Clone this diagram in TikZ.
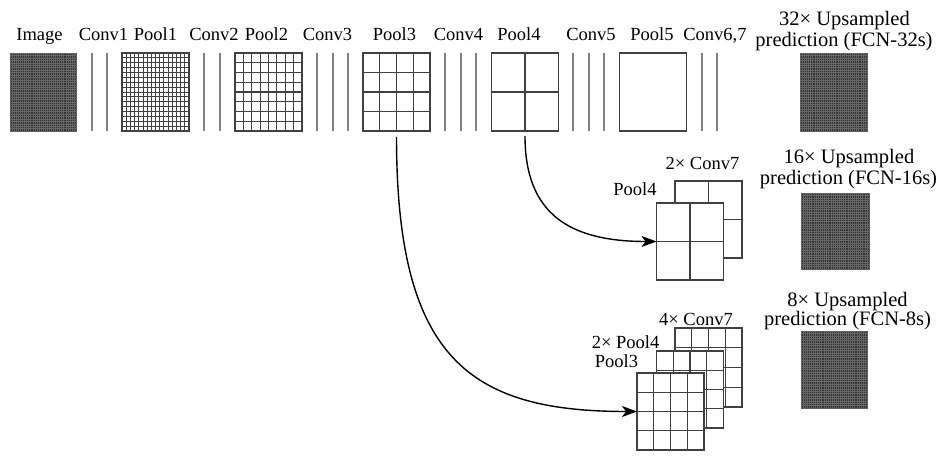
\documentclass[tikz,border=0pt]{standalone}
\usepackage{fontspec}
\setmainfont{Liberation Serif}
\usetikzlibrary{calc,arrows.meta}
\newcommand{\drawgrid}[4]{%
  \pgfmathtruncatemacro{\gcols}{#2-1}%
  \pgfmathtruncatemacro{\grows}{#3-1}%
  \foreach \k in {1,...,\gcols} \draw[#4] ($(#1.south west)!\k/#2!(#1.south east)$) -- ($(#1.north west)!\k/#2!(#1.north east)$);%
  \foreach \k in {1,...,\grows} \draw[#4] ($(#1.south west)!\k/#3!(#1.north west)$) -- ($(#1.south east)!\k/#3!(#1.north east)$);%
}
\begin{document}
\begin{tikzpicture}[x=1pt,y=-1pt,
  layer/.style={rectangle,draw=black!75,line width=1.1pt,fill=white,minimum width=67pt,minimum height=78pt,inner sep=0pt,outer sep=0pt},
  darkbox/.style={layer,fill=black!80,draw=black!62,line width=0.8pt},
  gline/.style={draw=black!75,line width=1.1pt},
  fline/.style={draw=black!75,line width=0.8pt},
  tline/.style={draw=black!60,line width=0.3pt},
  convline/.style={draw=black!50,line width=1.3pt},
  lbl/.style={font=\fontsize{18.5}{21}\selectfont,inner sep=0pt,anchor=base},
  plbl/.style={font=\fontsize{20.5}{21}\selectfont,inner sep=0pt,anchor=base},
  skip/.style={-{Stealth[length=15pt,width=11pt,inset=4pt]},line width=1.4pt,black}]
\useasboundingbox (0,0) rectangle (944,457);

% ---- top row ----
\node[darkbox,minimum width=66pt] (img) at (43,92) {};
\drawgrid{img}{32}{32}{tline}
\foreach \x in {92,107,204,220,317,333,348,445,461,476,573,589,604,702,717}
  \draw[convline] (\x,53) -- (\x,131);
\node[layer] (pool1) at (155.5,92) {};
\drawgrid{pool1}{16}{16}{fline}
\node[layer] (pool2) at (268.5,92) {};
\drawgrid{pool2}{8}{8}{gline}
\node[layer] (pool3) at (396.5,92) {};
\drawgrid{pool3}{4}{4}{gline}
\node[layer] (pool4) at (525,92) {};
\drawgrid{pool4}{2}{2}{gline}
\node[layer] (pool5) at (653,92) {};
\node[darkbox] (out32) at (833.5,92) {};
\drawgrid{out32}{32}{32}{tline}

\node[lbl] (tImage) at (39.5,41) {Image};
\node[lbl] (tConv1) at (103.5,41) {Conv1};
\node[lbl] (tPool1) at (155.5,41) {Pool1};
\node[lbl] (tConv2) at (214,41) {Conv2};
\node[lbl] (tPool2) at (266.5,41) {Pool2};
\node[lbl] (tConv3) at (327.5,41) {Conv3};
\node[lbl] (tPool3) at (394.5,41) {Pool3};
\node[lbl] (tConv4) at (458.5,41) {Conv4};
\node[lbl] (tPool4) at (519,41) {Pool4};
\node[lbl] (tConv5) at (591,41) {Conv5};
\node[lbl] (tPool5) at (652,41) {Pool5};
\node[lbl] (tConv67) at (715,41) {Conv6,7};
\node[plbl] (p32a) at (844.5,26) {32× Upsampled};
\node[plbl] (p32b) at (844,47) {prediction (FCN-32s)};

% ---- middle (FCN-16s) ----
\node[layer,minimum height=77pt] (c7b) at (708.5,219.5) {};
\drawgrid{c7b}{2}{2}{gline}
\node[layer,minimum height=77pt] (p4f) at (690,241.5) {};
\drawgrid{p4f}{2}{2}{gline}
\node[darkbox,minimum width=68pt,minimum height=76pt] (out16) at (835,231) {};
\drawgrid{out16}{32}{32}{tline}
\node[lbl] (t2c7) at (702.5,170) {2× Conv7};
\node[lbl] (tp4) at (635,195) {Pool4};
\node[plbl] (p16a) at (849,164) {16× Upsampled};
\node[plbl] (p16b) at (848.5,184) {prediction (FCN-16s)};

% ---- bottom (FCN-8s) ----
\node[layer,minimum height=79pt] (c7c) at (708.5,367.5) {};
\drawgrid{c7c}{4}{4}{gline}
\node[layer,minimum height=77pt] (p4m) at (690,389.5) {};
\drawgrid{p4m}{4}{4}{gline}
\node[layer,minimum height=77pt] (p3f) at (670.5,411.5) {};
\drawgrid{p3f}{4}{4}{gline}
\node[darkbox,minimum width=66pt,minimum height=77pt] (out8) at (834,369.5) {};
\drawgrid{out8}{32}{32}{tline}
\node[lbl] (t4c7) at (696,325) {4× Conv7};
\node[lbl] (t2p4) at (625.5,348) {2× Pool4};
\node[lbl] (tp3) at (616.5,367) {Pool3};
\node[plbl] (p8a) at (847.5,306) {8× Upsampled};
\node[plbl] (p8b) at (847.5,325) {prediction (FCN-8s)};

% ---- skip connections ----
\coordinate (s4) at ([yshift=-5pt]pool4.south);
\coordinate (s3) at ([yshift=-6pt]pool3.south);
\draw[skip] (s4) .. controls +(0,78) and +(-87,0) .. (p4f.west);
\draw[skip] (s3) .. controls +(0,222) and +(-167,0) .. (p3f.west);
\end{tikzpicture}
\end{document}
